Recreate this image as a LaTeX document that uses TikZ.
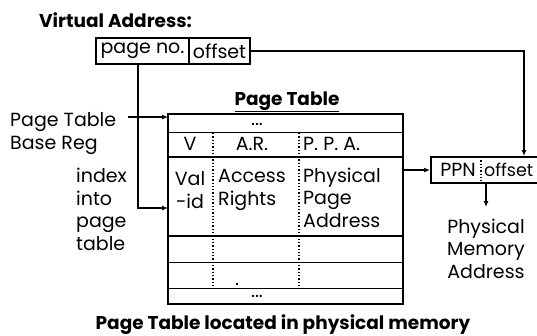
\documentclass[tikz,border=0pt]{standalone}
\usepackage{fontspec}
\setmainfont{Poppins}
\usetikzlibrary{arrows.meta,calc}
\begin{document}
\begin{tikzpicture}[x=1pt,y=-1pt,
  txt/.style={font=\fontsize{19}{22.5}\selectfont, inner sep=0pt},
  bold/.style={font=\fontsize{18.5}{22}\selectfont\bfseries, inner sep=0pt},
  cell/.style={draw, line width=1.8pt, inner sep=0pt, font=\fontsize{19}{22.5}\selectfont},
  arr/.style={line width=1.6pt, -{Latex[length=6pt,width=5pt]}},
  rowline/.style={line width=1.4pt},
  colline/.style={line width=1.3pt, dotted}
]
\useasboundingbox (0,0) rectangle (537,335);
% title
\node[bold, anchor=base west] (vatitle) at (39,27) {Virtual Address:};
% virtual address boxes
\node[cell, minimum width=93pt, minimum height=26pt] (pn) at (142.5,51) {page no.};
\node[cell, minimum width=61pt, minimum height=26pt] (off) at (219.5,51) {offset};
% page table title
\node[bold, anchor=base] (pttitle) at (287,105) {\underline{Page Table}};
% table
\node[draw, line width=1.8pt, minimum width=235pt, minimum height=190pt, inner sep=0pt] (tbl) at (285.5,209) {};
\draw[rowline] (tbl.west |- 0,132.5) -- (tbl.east |- 0,132.5);
\draw[rowline] (tbl.west |- 0,157) -- (tbl.east |- 0,157);
\draw[rowline] (tbl.west |- 0,236) -- (tbl.east |- 0,236);
\draw[rowline] (tbl.west |- 0,262.5) -- (tbl.east |- 0,262.5);
\draw[rowline] (tbl.west |- 0,288.5) -- (tbl.east |- 0,288.5);
\draw[colline] (213,133) -- (213,287);
\draw[colline] (299,133) -- (299,287);
\node[txt, anchor=base] (dtop) at (257,125) {...};
\node[txt, anchor=base] (hv) at (190,150) {V};
\node[txt, anchor=base] (har) at (252,150) {A.R.};
\node[txt, anchor=base west] (hppa) at (303,150) {P. P. A.};
\node[txt, align=center, anchor=base] (val) at (190,208) {Val\\-id};
\node[txt, align=left, anchor=base west] (acc) at (218,205) {Access\\Rights};
\node[txt, align=left, anchor=base west] (ppa) at (303,227) {Physical\\Page\\Address};
\node[txt, anchor=base] (dmid) at (237,285) {.};
\node[txt, anchor=base] (dbot) at (257,297) {...};
% side labels
\node[txt, align=left, anchor=base west] (ptbr) at (10,149) {Page Table\\Base Reg};
\node[txt, align=left, anchor=base west] (idx) at (76,250) {index\\into\\page\\table};
% physical address box
\node[draw, line width=1.8pt, minimum width=115pt, minimum height=26pt, inner sep=0pt, anchor=north west] (pbox) at (430,156) {};
\draw[colline] (481,157) -- (481,181);
\node[txt, anchor=base] (ppn) at (458,176) {PPN};
\node[txt, anchor=base west, font=\fontsize{17.5}{21}\selectfont] (poff) at (484,176) {offset};
\node[txt, align=center, anchor=base] (pma) at (486,278) {Physical\\Memory\\Address};
% connectors
\coordinate (ain) at (524,156);
\coordinate (pnout) at (138,64);
\coordinate (idxin) at (168,208);
\coordinate (ptbrout) at (128,117);
\coordinate (ptbrin) at (168,117);
\coordinate (tblout) at (403,170);
\coordinate (ppnin) at (430,170);
\coordinate (pdown) at (486,182);
\coordinate (pend) at (486,207);
\draw[arr] (off.east) -| (ain);
\draw[arr] (pnout) |- (idxin);
\draw[arr] (ptbrout) -- (ptbrin);
\draw[arr] (tblout) -- (ppnin);
\draw[arr] (pdown) -- (pend);
% caption
\node[bold, anchor=base] (cap) at (283,329) {Page Table located in physical memory};
\end{tikzpicture}
\end{document}
